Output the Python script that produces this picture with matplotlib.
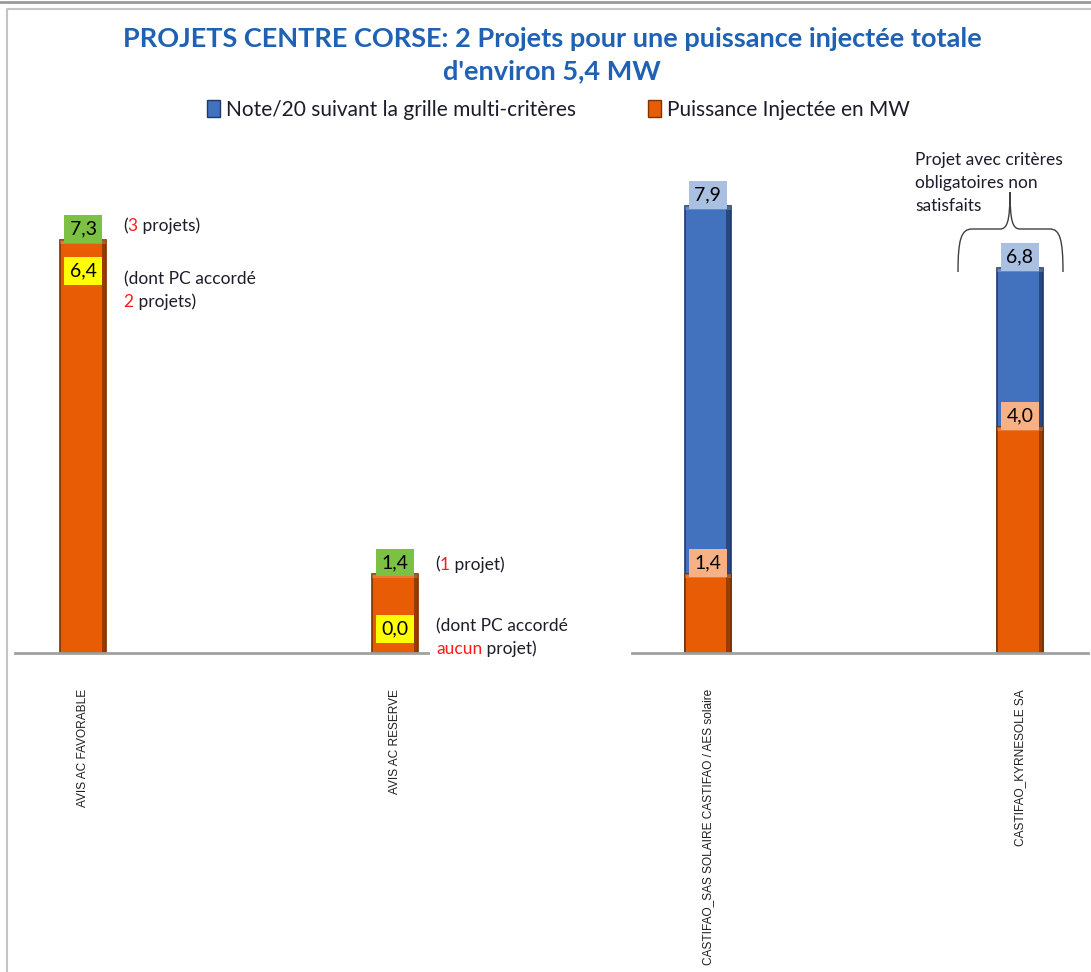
import numpy as np
import matplotlib
matplotlib.use("Agg")
import matplotlib.pyplot as plt
from matplotlib.patches import Patch, PathPatch, Rectangle
from matplotlib.path import Path

plt.rcParams['font.family'] = ['Lato', 'DejaVu Sans']

# Données
categories = ["AVIS AC FAVORABLE", "AVIS AC RESERVE",
              "CASTIFAO_SAS SOLAIRE CASTIFAO / AES solaire",
              "CASTIFAO_KYRNESOLE SA"]
note = [np.nan, np.nan, 7.9, 6.8]          # note /20
puissance = [7.3, 1.4, 1.4, 4.0]           # puissance injectée [MW]
pc_accorde = [6.4, 0.0, np.nan, np.nan]    # dont PC accordé [MW]
nb_projets = ["3", "1", None, None]
nb_pc = ["2", "aucun", None, None]

ORANGE = '#e85c06'
ORANGE_D = '#7d3200'
BLUE = '#4271bd'
BLUE_D = '#1e3a6b'
TXT = '#1c1c2a'

W, H = 1091, 972
fig = plt.figure(figsize=(W/100, H/100), dpi=100)

# cadre façon capture Excel
deco = fig.add_axes([0, 0, 1, 1], zorder=0)
deco.set_xlim(0, W)
deco.set_ylim(H, 0)
deco.axis('off')
deco.plot([0, W], [2, 2], color='#9a9a9a', lw=2)
deco.plot([7, 7, W], [H, 9, 9], color='#c4c4c4', lw=1.5)

# accolade "critères obligatoires non satisfaits"
verts = [(958, 272), (958, 240), (961, 229), (972, 229),
         (1000, 229),
         (1007, 229), (1010, 222), (1010, 192),
         (1010, 222), (1013, 229), (1020, 229),
         (1050, 229),
         (1060, 229), (1063, 240), (1063, 272)]
codes = [Path.MOVETO, Path.CURVE4, Path.CURVE4, Path.CURVE4,
         Path.LINETO,
         Path.CURVE4, Path.CURVE4, Path.CURVE4,
         Path.CURVE4, Path.CURVE4, Path.CURVE4,
         Path.LINETO,
         Path.CURVE4, Path.CURVE4, Path.CURVE4]
deco.add_patch(PathPatch(Path(verts, codes), fill=False, ec='#404040', lw=1))
deco.text(915, 183, "Projet avec critères\nobligatoires non\nsatisfaits",
          fontsize=12.5, color=TXT, va='center', ha='left', linespacing=1.55)

ax = fig.add_axes([15/W, 1 - 653/H, 1073/W, (653 - 144)/H], zorder=1)
ax.patch.set_alpha(0)
x = np.arange(len(categories))
bw = 0.147


def bar3d(xc, h, face, dark, z):
    ax.bar(xc, h, bw, color=face, edgecolor=dark, linewidth=1.2, zorder=z)
    ax.add_patch(Rectangle((xc + bw/2 - 0.014, 0), 0.014, h,
                           color=dark, alpha=0.75, lw=0, zorder=z + 0.1))
    ax.add_patch(Rectangle((xc - bw/2, h - 0.07), bw, 0.07,
                           color='white', alpha=0.18, lw=0, zorder=z + 0.1))


for i in range(len(categories)):
    if not np.isnan(note[i]):
        bar3d(x[i], note[i], BLUE, BLUE_D, 2)
    bar3d(x[i], puissance[i], ORANGE, ORANGE_D, 3)

box = dict(boxstyle='square,pad=0.28', lw=0)
for i in range(len(categories)):
    if np.isnan(note[i]):
        # total en vert au-dessus, PC accordé en jaune dans la barre
        ax.text(x[i], puissance[i] + 0.05, f"{puissance[i]:.1f}".replace('.', ','),
                ha='center', va='bottom', fontsize=14, color='black', zorder=5,
                bbox=dict(box, fc='#7cc143'))
        ax.text(x[i], pc_accorde[i] + (0.35 if pc_accorde[i] > 0 else 0.42),
                f"{pc_accorde[i]:.1f}".replace('.', ','),
                ha='center', va='center', fontsize=14, color='black', zorder=5,
                bbox=dict(box, fc='#ffff00'))
    else:
        ax.text(x[i], note[i] + 0.05, f"{note[i]:.1f}".replace('.', ','),
                ha='center', va='bottom', fontsize=14, color='black', zorder=5,
                bbox=dict(box, fc='#a9c0e0'))
        ax.text(x[i], puissance[i] + 0.04, f"{puissance[i]:.1f}".replace('.', ','),
                ha='center', va='bottom', fontsize=14, color='black', zorder=5,
                bbox=dict(box, fc='#f7b184'))


def multicolor(xy, parts, fs=12.5):
    # écrit des morceaux de texte de couleurs différentes à la suite
    t = ax.text(xy[0], xy[1], parts[0][0], color=parts[0][1], fontsize=fs,
                ha='left', va='bottom', zorder=5)
    for s, c in parts[1:]:
        t = ax.annotate(s, xy=(1, 0), xycoords=t, color=c, fontsize=fs,
                        ha='left', va='bottom', zorder=5)


for i, (y1, y2, y3) in zip([0, 1], [(7.40, 6.46, 6.07), (1.42, 0.33, -0.07)]):
    projets = " projets)" if nb_projets[i] != "1" else " projet)"
    multicolor((x[i] + 0.128, y1), [("(", TXT), (nb_projets[i], '#ff1a1a'), (projets, TXT)])
    multicolor((x[i] + 0.13, y2), [("(dont PC accordé", TXT)])
    suite = " projets)" if nb_pc[i] != "aucun" else " projet)"
    multicolor((x[i] + 0.13, y3), [(nb_pc[i], '#ff1a1a'), (suite, TXT)])

ax.set_xlim(-0.218, 3.218)
ax.set_ylim(0, 9)
for s in ax.spines.values():
    s.set_visible(False)
# axe horizontal interrompu par la zone de texte
ax.plot([-0.218, 1.104], [0, 0], color='#a0a0a0', lw=2, zorder=4, clip_on=False)
ax.plot([1.758, 3.218], [0, 0], color='#a0a0a0', lw=2, zorder=4, clip_on=False)
ax.set_yticks([])
ax.set_xticks(x)
ax.set_xticklabels(categories, rotation=90, fontsize=8.6, family='Liberation Sans',
                   va='top', ha='center', color='#202020')
ax.tick_params(axis='x', length=0, pad=26)

fig.text(0.506, 1 - 55/H,
         "PROJETS CENTRE CORSE: 2 Projets pour une puissance injectée totale\nd'environ 5,4 MW",
         ha='center', va='center', fontsize=19.5, fontweight='bold', color='#1f62b4',
         linespacing=1.42)

handles = [Patch(fc=BLUE, ec=BLUE_D), Patch(fc=ORANGE, ec=ORANGE_D)]
fig.legend(handles, ["Note/20 suivant la grille multi-critères", "Puissance Injectée en MW"],
           loc='center', bbox_to_anchor=(0.512, 1 - 110/H), ncol=2, frameon=False,
           fontsize=15, handlelength=0.6, handleheight=0.9, handletextpad=0.3,
           columnspacing=3.45, labelcolor=TXT)

fig.savefig("out.png", dpi=100)
